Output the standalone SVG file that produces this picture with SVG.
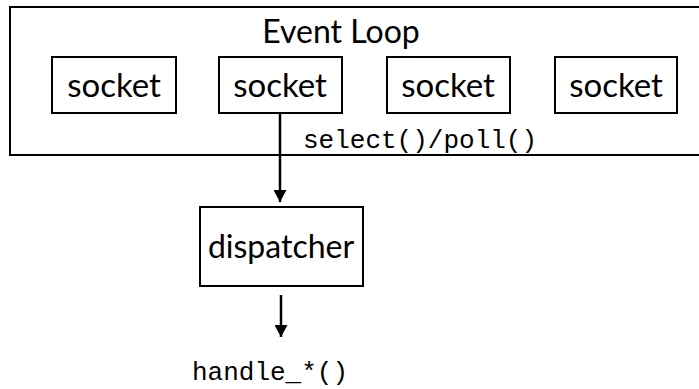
<svg xmlns="http://www.w3.org/2000/svg" width="699" height="389" viewBox="0 0 699 389">
<defs>
<style>
.box{fill:#fff;stroke:#000;stroke-width:2}
.lbl{font-family:"Lato","Open Sans",sans-serif;font-size:32px;fill:#000;text-anchor:middle}
.sock{font-size:33px}
.mono{font-family:"Liberation Mono",monospace;font-size:26px;fill:#000}
.conn{stroke:#000;stroke-width:2.5;fill:none}
</style>
<marker id="ah" viewBox="0 0 12 13" refX="12" refY="6.5" markerWidth="12" markerHeight="13" markerUnits="userSpaceOnUse" orient="auto">
<path d="M0,0 L12,6.5 L0,13 Z" fill="#000"/>
</marker>
</defs>
<g id="event-loop">
<rect class="box" x="10" y="7" width="700" height="148"/>
<text class="lbl" x="341" y="43">Event Loop</text>
</g>
<g id="socket1"><rect class="box" x="52" y="57" width="124" height="56"/><text class="lbl sock" x="114" y="97">socket</text></g>
<g id="socket2"><rect class="box" x="219" y="57" width="123" height="56"/><text class="lbl sock" x="280" y="97">socket</text></g>
<g id="socket3"><rect class="box" x="387" y="57" width="123" height="56"/><text class="lbl sock" x="448" y="97">socket</text></g>
<g id="socket4"><rect class="box" x="555" y="57" width="122" height="56"/><text class="lbl sock" x="616" y="97">socket</text></g>
<g id="dispatcher"><rect class="box" x="200" y="207" width="163" height="79"/><text class="lbl" x="281" y="258">dispatcher</text></g>
<g id="connectors">
<line class="conn" x1="280" y1="113" x2="280" y2="202" marker-end="url(#ah)"/>
<line class="conn" x1="281" y1="295" x2="281" y2="337" marker-end="url(#ah)"/>
<text class="mono" x="303" y="148">select()/poll()</text>
<text class="mono" x="192" y="380">handle_*()</text>
</g>
</svg>
